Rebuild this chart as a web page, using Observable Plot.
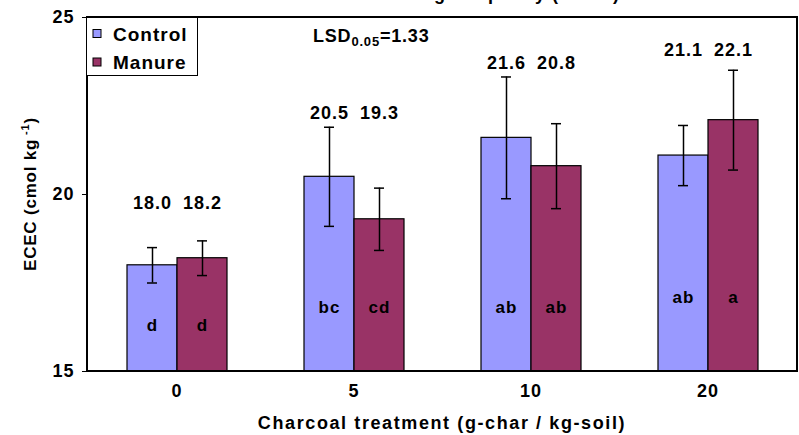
<!DOCTYPE html>
<html>
<head>
<meta charset="utf-8">
<script src="https://cdn.jsdelivr.net/npm/d3@7"></script>
<script src="https://cdn.jsdelivr.net/npm/@observablehq/plot@0.6"></script>
<style>
  html, body { margin: 0; padding: 0; background: #fff; }
  #chart svg { display: block; }
</style>
</head>
<body>
<div id="chart"></div>
<script>
// ---- data ----
const treatments = ["0", "5", "10", "20"];
const series = ["Control", "Manure"];
const colors = ["#9999FF", "#993366"];
const controlValues = [18.0, 20.5, 21.6, 21.1];
const manureValues = [18.2, 19.3, 20.8, 22.1];
const controlErr = [0.5, 1.4, 1.72, 0.85];
const manureErr = [0.49, 0.88, 1.2, 1.41];
const controlLetters = ["d", "bc", "ab", "ab"];
const manureLetters = ["d", "cd", "ab", "a"];
const valueLabelY = [19.75, 22.3, 23.7, 24.07];
const letterLabelY = [16.3, 16.8, 16.8, 17.1];
const yTicks = [15, 20, 25];
const yDomain = [15, 25];

const rows = treatments.flatMap((t, i) => [
  {treatment: t, series: "Control", value: controlValues[i], err: controlErr[i], letter: controlLetters[i], ly: valueLabelY[i], lety: letterLabelY[i]},
  {treatment: t, series: "Manure", value: manureValues[i], err: manureErr[i], letter: manureLetters[i], ly: valueLabelY[i], lety: letterLabelY[i]}
]);

const W = 799, H = 435, mL = 87, mR = 2, mT = 17, mB = 64;
const font = "Arial, 'Liberation Sans', sans-serif";

const chart = Plot.plot({
  width: W, height: H,
  marginLeft: mL, marginRight: mR, marginTop: mT, marginBottom: mB,
  style: {fontFamily: font, fontSize: "18px", fontWeight: "bold", color: "#000", background: "#fff", letterSpacing: "1px"},
  facet: {data: rows, x: "treatment"},
  fx: {domain: treatments, padding: 0, label: null, tickSize: 0, tickPadding: 13, axis: "bottom"},
  x: {domain: series, paddingInner: 0, paddingOuter: 0.74, axis: null},
  y: {domain: yDomain, ticks: yTicks, tickSize: 6, tickPadding: 8, label: null},
  color: {domain: series, range: colors},
  marks: [
    Plot.barY(rows, {x: "series", y1: 15, y2: "value", fill: "series", stroke: "#000", strokeWidth: 1.2}),
    Plot.ruleX(rows, {x: "series", y1: d => d.value - d.err, y2: d => d.value + d.err, stroke: "#000", strokeWidth: 1.5}),
    Plot.tickY(rows, {x: "series", y: d => d.value + d.err, insetLeft: 20, insetRight: 20, stroke: "#000", strokeWidth: 1.5}),
    Plot.tickY(rows, {x: "series", y: d => d.value - d.err, insetLeft: 20, insetRight: 20, stroke: "#000", strokeWidth: 1.5}),
    Plot.text(rows, {x: "series", y: "ly", text: d => d.value.toFixed(1), fontSize: 18, fontWeight: "bold", fill: "#000"}),
    Plot.text(rows, {x: "series", y: "lety", text: "letter", fontSize: 17, fontWeight: "bold", fill: "#000"})
  ]
});

document.getElementById("chart").appendChild(chart);

const svg = d3.select(chart);
const ys = chart.scale("y");
const yTop = Math.min(...ys.range), yBot = Math.max(...ys.range);

// plot frame
svg.append("rect")
  .attr("x", mL).attr("y", yTop)
  .attr("width", W - mR - mL).attr("height", yBot - yTop)
  .attr("fill", "none").attr("stroke", "#000").attr("stroke-width", 2);

// title (mostly cut off at the top, as in the original figure)
svg.append("text")
  .attr("x", 620).attr("y", 0)
  .attr("text-anchor", "end")
  .attr("font-family", font).attr("font-size", 18).attr("font-weight", "bold")
  .text("Effective Cation Exchange Capacity (ECEC)");

// legend
const lg = svg.append("g").attr("text-anchor", "start");
lg.append("rect").attr("x", 86.5).attr("y", 17.5).attr("width", 111).attr("height", 58)
  .attr("fill", "#fff").attr("stroke", "#000").attr("stroke-width", 1);
series.forEach((s, i) => {
  const cy = 34 + i * 28.5;
  lg.append("rect").attr("x", 93).attr("y", cy - 4.5).attr("width", 8).attr("height", 8)
    .attr("fill", colors[i]).attr("stroke", "#000").attr("stroke-width", 1);
  lg.append("text").attr("x", 113).attr("y", cy + 6.5)
    .attr("text-anchor", "start")
    .attr("font-family", font).attr("font-size", 19).attr("font-weight", "bold")
    .attr("letter-spacing", 1)
    .text(s);
});

// LSD annotation
const lsd = svg.append("text").attr("x", 313).attr("y", 42)
  .attr("text-anchor", "start")
  .attr("font-family", font).attr("font-size", 18).attr("font-weight", "bold")
  .attr("letter-spacing", 0.8);
lsd.append("tspan").text("LSD");
lsd.append("tspan").attr("font-size", 13).attr("dy", 4).text("0.05");
lsd.append("tspan").attr("dy", -4).text("=1.33");

// y axis label
const yl = svg.append("text")
  .attr("transform", `translate(36,${(yTop + yBot) / 2}) rotate(-90)`)
  .attr("text-anchor", "middle")
  .attr("font-family", font).attr("font-size", 17).attr("font-weight", "bold")
  .attr("letter-spacing", 0.8);
yl.append("tspan").text("ECEC (cmol kg");
yl.append("tspan").attr("font-size", 11).attr("dy", -7).text(" -1");
yl.append("tspan").attr("dy", 7).text(")");

// x axis label
svg.append("text")
  .attr("x", 442).attr("y", 429)
  .attr("text-anchor", "middle")
  .attr("font-family", font).attr("font-size", 18).attr("font-weight", "bold")
  .attr("letter-spacing", 1.6)
  .text("Charcoal treatment (g-char / kg-soil)");
</script>
</body>
</html>
